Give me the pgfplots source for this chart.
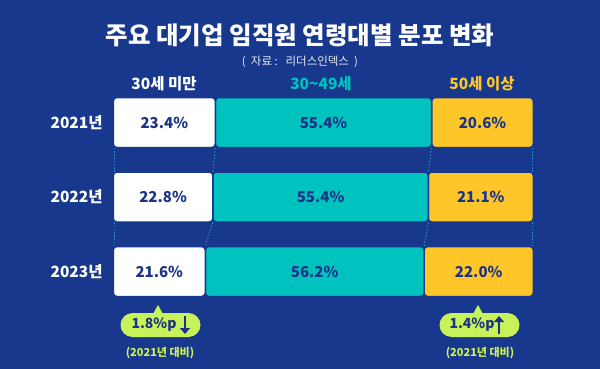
\documentclass[border=0pt]{standalone}
\usepackage{fontspec}
\setmainfont{Noto Sans CJK KR}
\IfFontExistsTF{Noto Sans CJK KR Black}
  {\newfontfamily\heavy{Noto Sans CJK KR Black}}
  {\newfontfamily\heavy[FakeBold=1.2]{Noto Sans CJK KR Bold}}
\usepackage{pgfplots}
\pgfplotsset{compat=1.18}
\usetikzlibrary{arrows.meta,shapes.misc}
\definecolor{bg}{HTML}{17388C}
\definecolor{tealc}{HTML}{00C3C0}
\definecolor{yel}{HTML}{FFC62A}
\definecolor{navy}{HTML}{1B3486}
\definecolor{lime}{HTML}{C8F25A}
\definecolor{dotc}{HTML}{2A8CC6}
\begin{document}
\begin{tikzpicture}[x=1pt,y=1pt]
\useasboundingbox (0,0) rectangle (600,-369);
\fill[bg] (0,0) rectangle (600,-369);
\node[font=\heavy\fontsize{24.5}{24.5}\selectfont, text=white] at (300,-35) {주요 대기업 임직원 연령대별 분포 변화};
\node[font=\fontsize{11.5}{12}\selectfont, text=white!90!bg] at (300,-62) {(\ \ 자료\ :\ \ \ 리더스인덱스\ \ )};
\node[font=\bfseries\fontsize{15.5}{15.5}\selectfont, text=white] at (164,-84) {30세 미만};
\node[font=\bfseries\fontsize{15.5}{15.5}\selectfont, text=tealc] at (321,-84) {30\textasciitilde49세};
\node[font=\bfseries\fontsize{15.5}{15.5}\selectfont, text=yel] at (482,-84) {50세 이상};
\begin{axis}[
  at={(113.3pt,-85.25pt)}, anchor=north west, scale only axis,
  width=420pt, height=223.5pt,
  xmin=0, xmax=100, ymin=-0.5, ymax=2.5, y dir=reverse,
  xbar stacked, bar width=50pt,
  axis line style={draw=none}, xtick=\empty,
  ytick={0,1,2}, yticklabels={2021년,2022년,2023년},
  major tick length=0pt,
  yticklabel style={font=\bfseries\fontsize{15.5}{15.5}\selectfont, text=white, inner sep=0pt, xshift=-10.5pt},
  /pgf/number format/assume math mode=true,
  clip=false,
]
% segment lengths as drawn in the picture (share of the bar)
\addplot[fill=white, draw=bg, line width=1.5pt, rounded corners=3.5pt] coordinates {(24.3,0) (23.7,1) (21.9,2)};
\addplot[fill=tealc, draw=bg, line width=1.5pt, rounded corners=3.5pt] coordinates {(51.5,0) (51.3,1) (52.1,2)};
\addplot[fill=yel, draw=bg, line width=1.5pt, rounded corners=3.5pt] coordinates {(24.2,0) (25.0,1) (26.0,2)};
\end{axis}
\begin{axis}[
  at={(113.3pt,-85.25pt)}, anchor=north west, scale only axis,
  width=420pt, height=223.5pt,
  xmin=0, xmax=100, ymin=-0.5, ymax=2.5, y dir=reverse,
  hide axis, clip=false,
]
\pgfplotsset{dl/.style={dotc, line width=0.9pt, dash pattern=on 1.6pt off 1.6pt}}
\addplot[dl] coordinates {(0.3,0.34) (0.3,0.66)};
\addplot[dl] coordinates {(24.3,0.34) (23.7,0.66)};
\addplot[dl] coordinates {(75.8,0.34) (75.0,0.66)};
\addplot[dl] coordinates {(99.7,0.34) (99.7,0.66)};
\addplot[dl] coordinates {(0.3,1.34) (0.3,1.66)};
\addplot[dl] coordinates {(23.7,1.34) (21.9,1.66)};
\addplot[dl] coordinates {(75.0,1.34) (74.0,1.66)};
\addplot[dl] coordinates {(99.7,1.34) (99.7,1.66)};
\addplot[draw=none, mark=none, point meta=explicit symbolic,
  nodes near coords, nodes near coords align={center},
  every node near coord/.append style={font=\bfseries\fontsize{15}{15}\selectfont, text=navy, anchor=center}]
  coordinates {(12.15,0) [23.4\%] (50.05,0) [55.4\%] (87.9,0) [20.6\%]
               (11.85,1) [22.8\%] (49.35,1) [55.4\%] (87.5,1) [21.1\%]
               (10.95,2) [21.6\%] (47.95,2) [56.2\%] (87.0,2) [22.0\%]};
\end{axis}
% callouts
\fill[lime] (153,-314) -- (158,-305) -- (163,-314) -- cycle;
\node[fill=lime, rounded rectangle, minimum width=80pt, minimum height=24pt, inner sep=0pt] at (160.5,-325) {};
\node[font=\bfseries\fontsize{14}{14}\selectfont, text=navy] at (154,-325) {1.8\%p};
\draw[navy, line width=2.4pt, -{Triangle[length=6pt,width=10pt]}] (185,-316) -- (185,-334);
\node[font=\bfseries\fontsize{11}{11}\selectfont, text=lime] at (160,-353) {(2021년 대비)};
\fill[lime] (473,-314) -- (478,-305) -- (483,-314) -- cycle;
\node[fill=lime, rounded rectangle, minimum width=80pt, minimum height=24pt, inner sep=0pt] at (479.5,-325) {};
\node[font=\bfseries\fontsize{14}{14}\selectfont, text=navy] at (472,-325) {1.4\%p};
\draw[navy, line width=2.4pt, -{Triangle[length=6pt,width=10pt]}] (499,-334) -- (499,-316);
\node[font=\bfseries\fontsize{11}{11}\selectfont, text=lime] at (480,-353) {(2021년 대비)};
\end{tikzpicture}
\end{document}
